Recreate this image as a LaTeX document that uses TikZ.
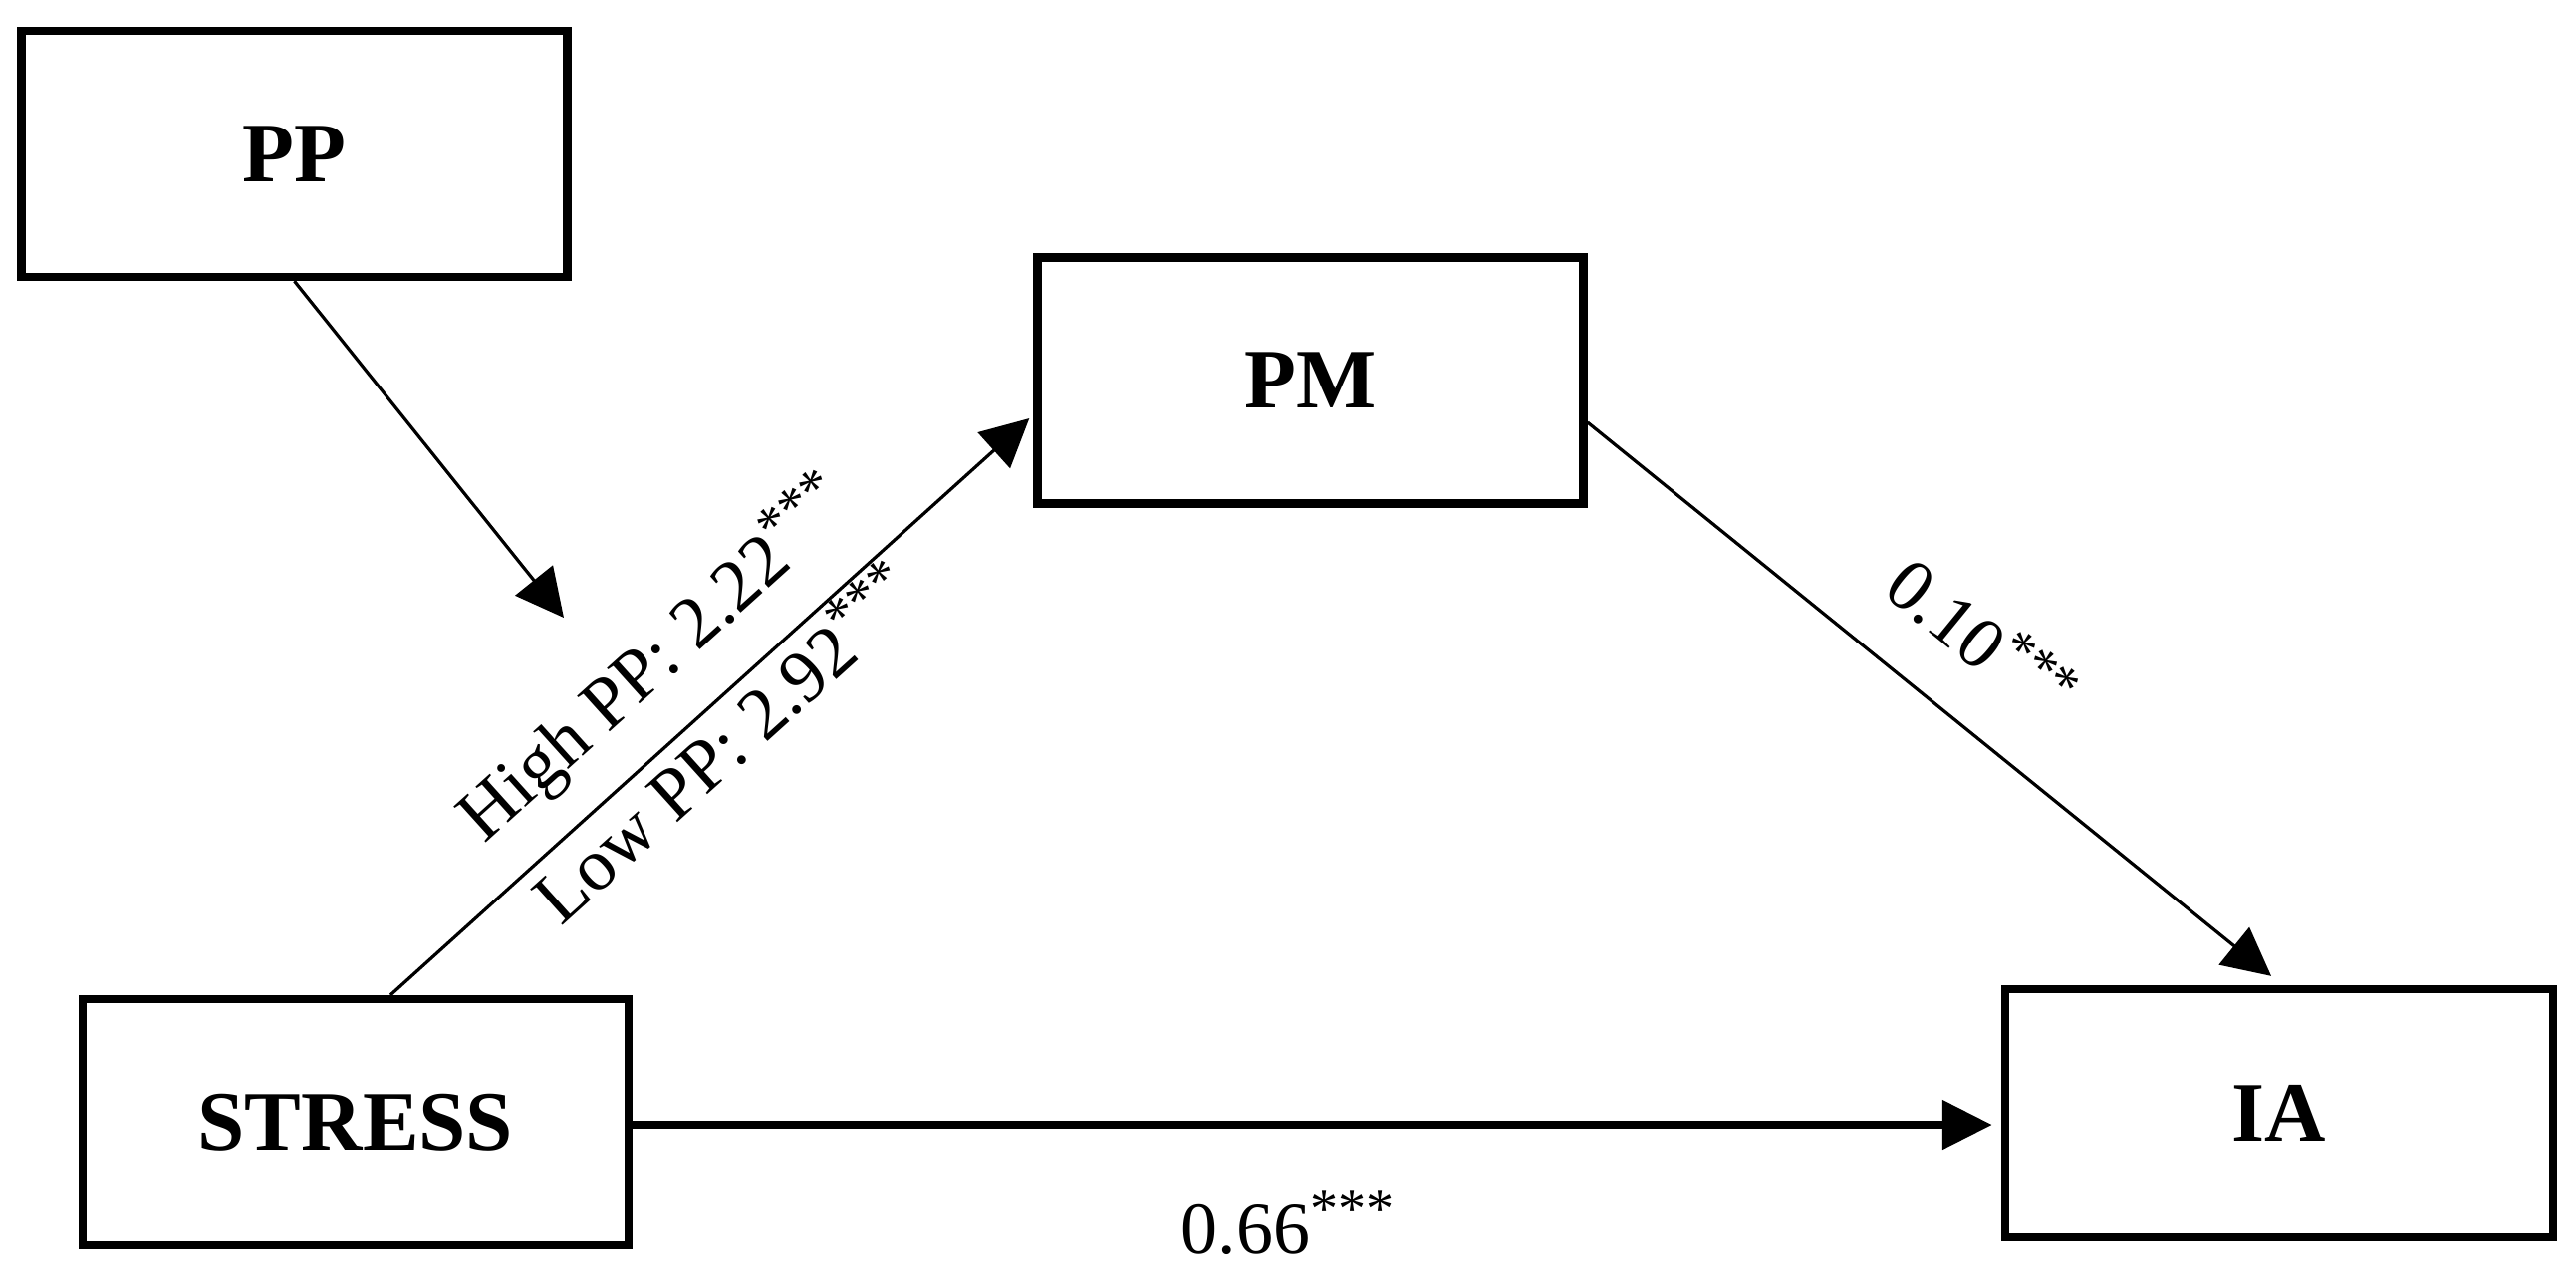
\documentclass[tikz,border=0pt]{standalone}
\usepackage{fontspec}
\setmainfont{Liberation Serif}
\usetikzlibrary{arrows.meta}
\tikzset{
  box/.style={draw, line width=2.1pt, rectangle, inner sep=0pt,
    minimum width=137pt, minimum height=61.75pt,
    font=\fontsize{21.25pt}{25pt}\selectfont\bfseries},
  thinarrow/.style={line width=0.8pt, -{Triangle[length=12pt,width=12pt]}},
  thickarrow/.style={line width=2.1pt, -{Triangle[length=12.5pt,width=12pt]}},
  lbl/.style={inner sep=0pt, anchor=base west, font=\fontsize{18.5pt}{21pt}\selectfont}
}
\newcommand{\sig}{\textsuperscript{\fontsize{14pt}{14pt}\selectfont ***}}
\begin{document}
\begin{tikzpicture}[x=0.25pt, y=-0.25pt]
\useasboundingbox (0,0) rectangle (2586,1290);
\fill[white] (0,0) rectangle (2586,1290);

% boxes
\node[box] (pp) at (295.5,154.5) {PP};
\node[box] (pm) at (1315.5,382) {PM};
\node[box] (stress) at (357,1126.5) {STRESS};
\node[box, minimum width=137.5pt, minimum height=62.25pt] (ia) at (2288,1117.5) {IA};

% moderation point
\coordinate (mod) at (566,620);

% connectors
\draw[thinarrow] (pp.south) -- (mod);
\draw[thinarrow] ([xshift=8.75pt]stress.north) -- ([xshift=-1pt,yshift=-9.5pt]pm.west);
\draw[thinarrow] ([yshift=-10.5pt]pm.east) -- ([xshift=-2pt,yshift=2.25pt]ia.north);
\draw[thickarrow] ([yshift=-0.625pt]stress.east) -- ([xshift=-2.25pt,yshift=-2.875pt]ia.west);

% labels
\node[lbl, rotate=42] (hi) at (486,848) {High PP: 2.22\sig};
\node[lbl, rotate=42] (lo) at (563,931) {Low PP: 2.92\sig};
\node[lbl, rotate=-39.2] (b2) at (1887.5,594.6) {0.10\sig};
\node[lbl] (c1) at (1185,1258) {0.66\sig};
\end{tikzpicture}
\end{document}
